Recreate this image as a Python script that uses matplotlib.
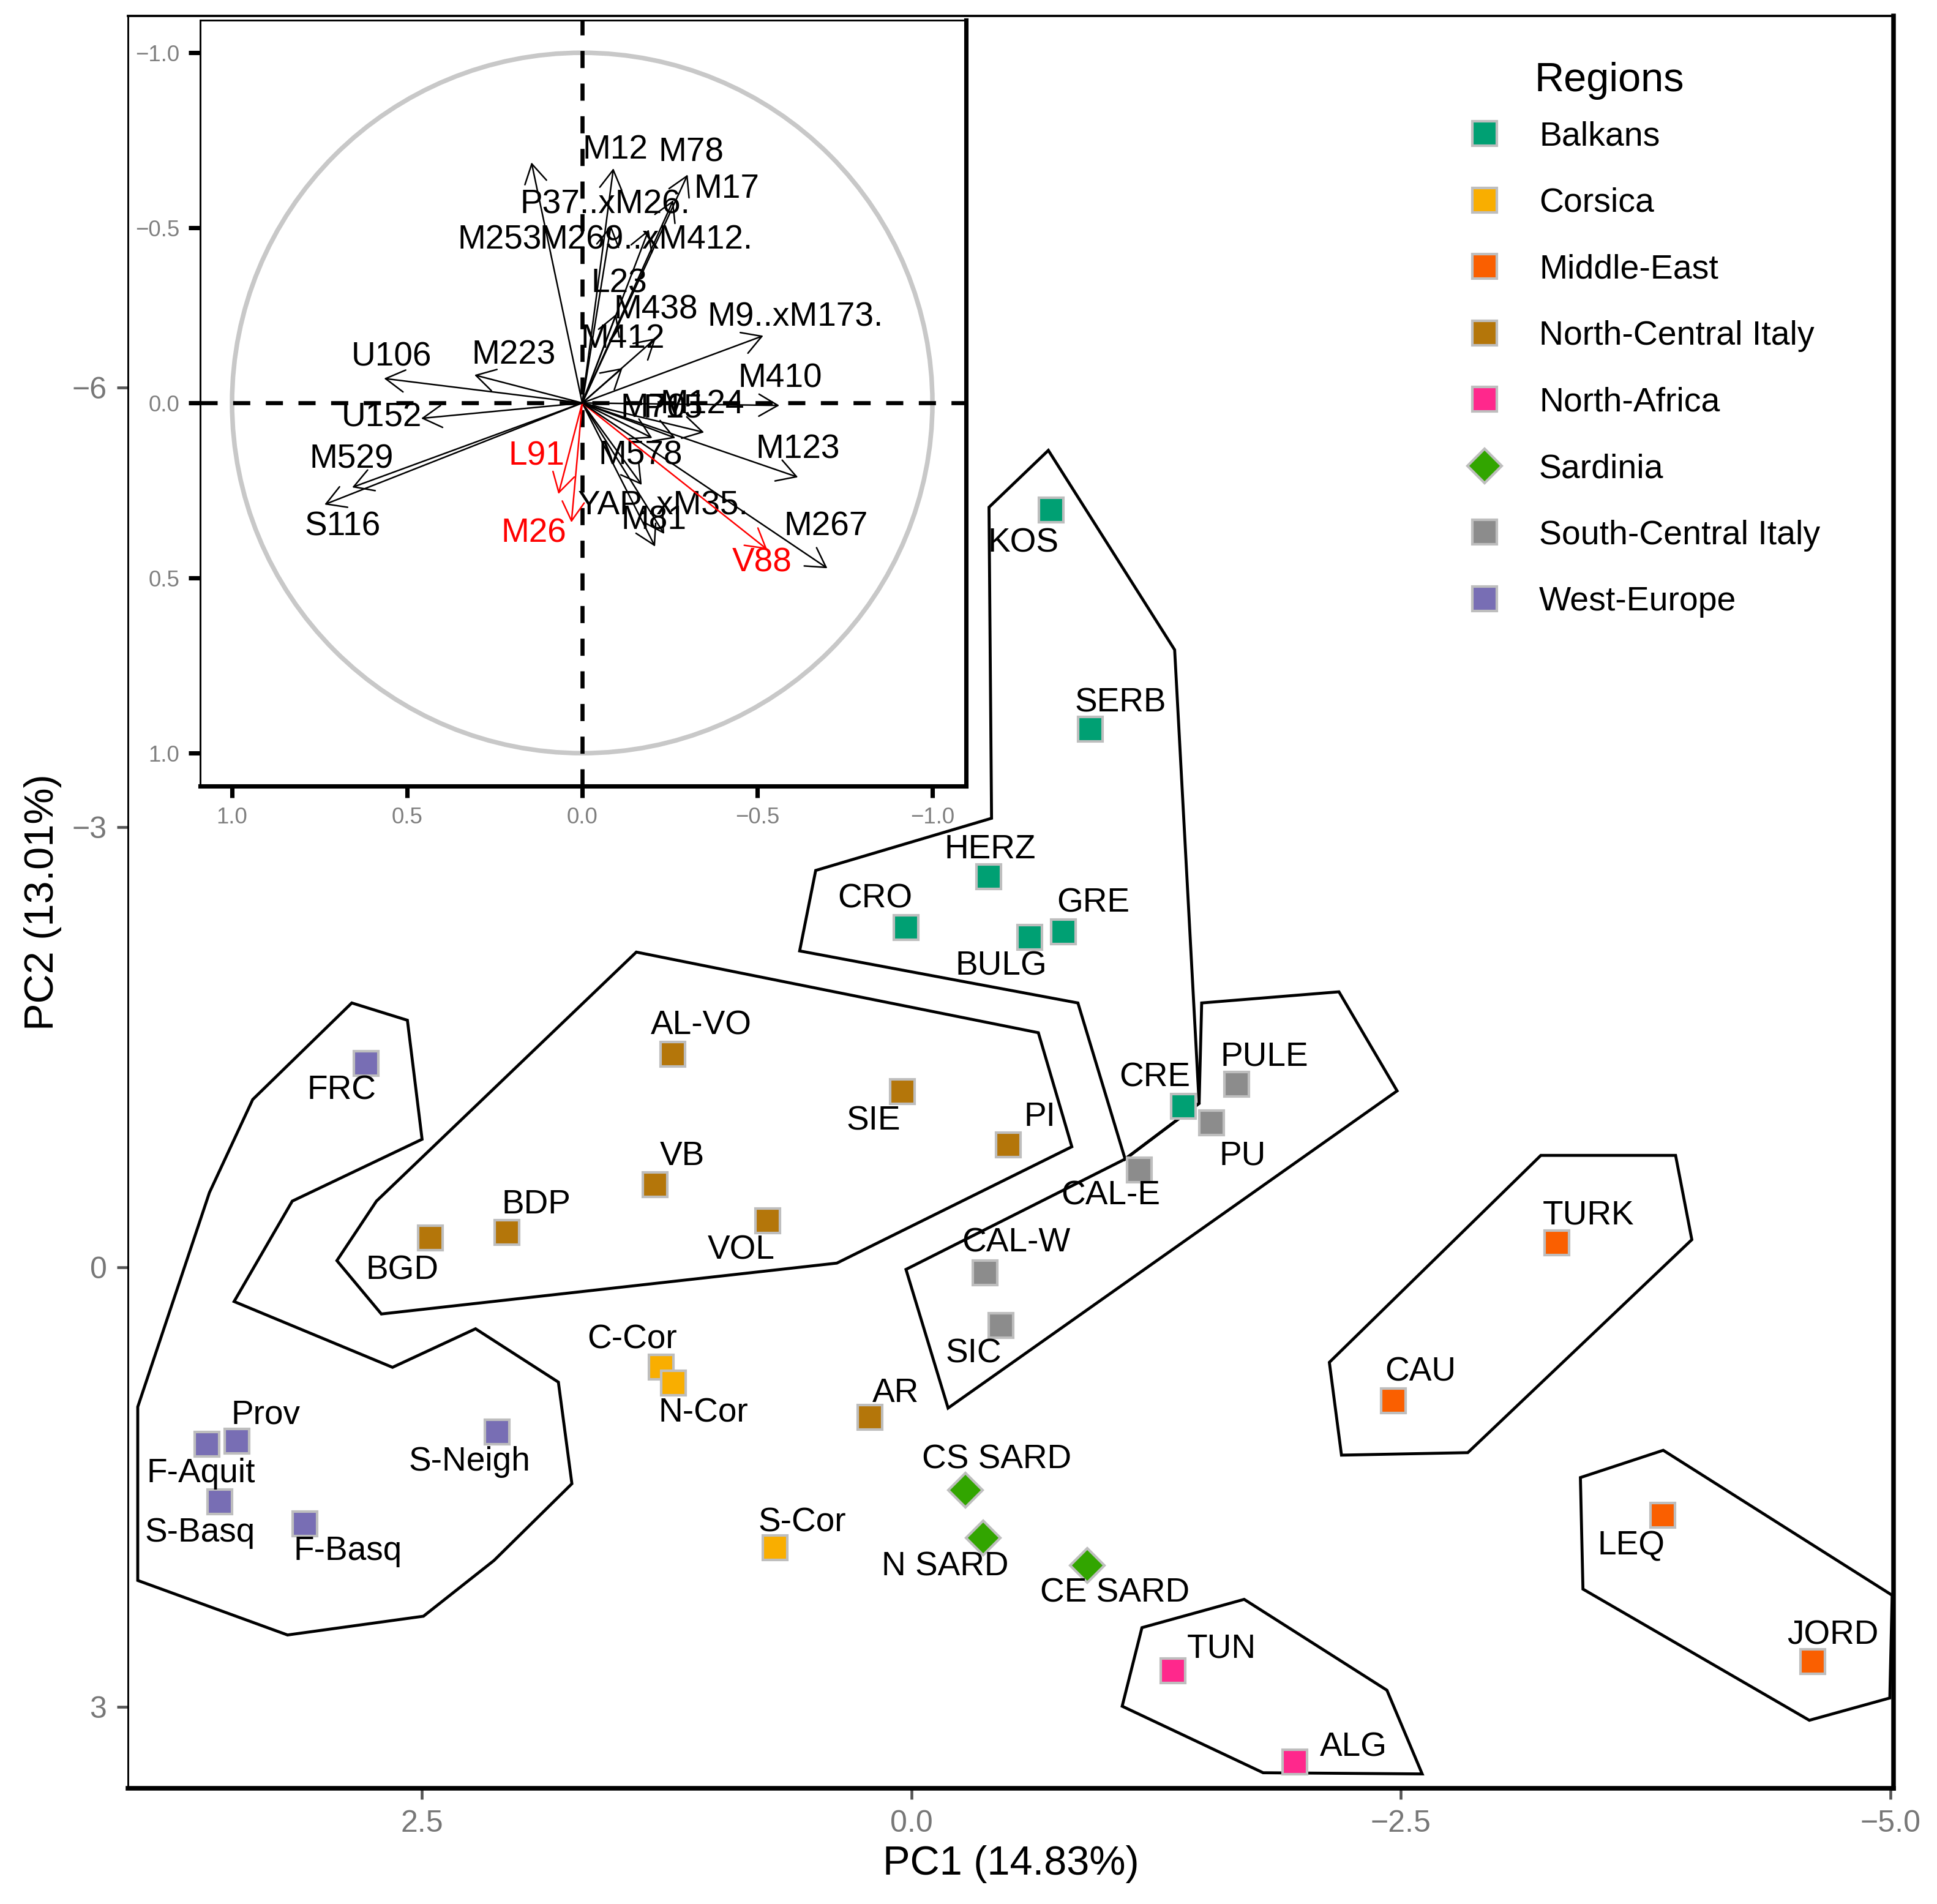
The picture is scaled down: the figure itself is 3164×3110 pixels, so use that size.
import matplotlib
matplotlib.use("Agg")
import matplotlib.pyplot as plt
from matplotlib.lines import Line2D
from matplotlib.patches import Polygon, Circle

plt.rcParams['font.family'] = ['Liberation Sans', 'DejaVu Sans']

# populations on the first two PCs
pops = ['KOS', 'SERB', 'HERZ', 'CRO', 'BULG', 'GRE', 'CRE',
        'C-Cor', 'N-Cor', 'S-Cor',
        'TURK', 'CAU', 'LEQ', 'JORD',
        'AL-VO', 'SIE', 'PI', 'VB', 'BDP', 'BGD', 'VOL', 'AR',
        'TUN', 'ALG',
        'CS SARD', 'N SARD', 'CE SARD',
        'PULE', 'PU', 'CAL-E', 'CAL-W', 'SIC',
        'FRC', 'Prov', 'F-Aquit', 'S-Basq', 'F-Basq', 'S-Neigh']
pc1 = [-0.713, -0.915, -0.397, 0.027, -0.605, -0.776, -1.389,
       1.278, 1.214, 0.696,
       -3.298, -2.461, -3.836, -4.604,
       1.218, 0.046, -0.496, 1.308, 2.066, 2.455, 0.734, 0.211,
       -1.337, -1.96,
       -0.277, -0.368, -0.90,
       -1.663, -1.533, -1.164, -0.377, -0.457,
       2.784, 3.442, 3.596, 3.531, 3.098, 2.116]
pc2 = [-5.166, -3.672, -2.662, -2.318, -2.248, -2.288, -1.096,
       0.682, 0.793, 1.914,
       -0.167, 0.914, 1.692, 2.691,
       -1.450, -1.197, -0.834, -0.561, -0.238, -0.197, -0.318, 1.025,
       2.754, 3.378,
       1.520, 1.846, 2.037,
       -1.248, -0.985, -0.662, 0.041, 0.399,
       -1.389, 1.187, 1.207, 1.601, 1.752, 1.126]
pop_region = (['Balkans'] * 7 + ['Corsica'] * 3 + ['Middle-East'] * 4 +
              ['North-Central Italy'] * 8 + ['North-Africa'] * 2 +
              ['Sardinia'] * 3 + ['South-Central Italy'] * 5 + ['West-Europe'] * 6)

regions = ['Balkans', 'Corsica', 'Middle-East', 'North-Central Italy',
           'North-Africa', 'Sardinia', 'South-Central Italy', 'West-Europe']
region_colors = ['#00A073', '#F9AE00', '#FA5F00', '#B4760A',
                 '#FF288C', '#32A500', '#8C8C8C', '#786EB4']
region_markers = ['s', 's', 's', 's', 's', 'D', 's', 's']

# label offsets (points) from each population
label_offsets = {
    'KOS': (-10.7, -13.1), 'SERB': (11.7, 10.2), 'HERZ': (0.5, 10.7), 'CRO': (-12.2, 11.2),
    'BULG': (-11.2, -11.2), 'GRE': (11.7, 11.2), 'CRE': (-11.2, 11.2),
    'C-Cor': (-11.2, 10.7), 'N-Cor': (11.7, -11.7), 'S-Cor': (10.7, 9.7),
    'TURK': (12.2, 10.7), 'CAU': (10.7, 11.2), 'LEQ': (-12.2, -12.2), 'JORD': (7.8, 10.2),
    'AL-VO': (11.2, 11.2), 'SIE': (-11.2, -11.7), 'PI': (12.2, 10.7), 'VB': (10.7, 11.2),
    'BDP': (11.7, 10.7), 'BGD': (-11.2, -12.7), 'VOL': (-10.2, -11.7), 'AR': (10.2, 9.3),
    'TUN': (19.0, 8.5), 'ALG': (22.9, 5.8),
    'CS SARD': (12.2, 11.7), 'N SARD': (-15.0, -11.6), 'CE SARD': (10.8, -10.9),
    'PULE': (10.7, 10.7), 'PU': (12.2, -13.1), 'CAL-E': (-11.2, -10.2), 'CAL-W': (12.2, 11.7),
    'SIC': (-10.7, -11.2),
    'FRC': (-9.7, -10.7), 'Prov': (11.2, 10.2), 'F-Aquit': (-2.4, -11.7), 'S-Basq': (-7.8, -12.2),
    'F-Basq': (17.0, -10.7), 'S-Neigh': (-10.7, -11.7),
}

# cluster outlines (PC1, PC2)
hull_west = [(2.857, -1.802), (2.573, -1.684), (2.498, -0.872), (3.161, -0.450), (3.458, 0.235),
             (2.649, 0.684), (2.225, 0.421), (1.802, 0.785), (1.733, 1.478), (2.131, 2.002),
             (2.491, 2.382), (3.185, 2.510), (3.950, 2.138), (3.950, 0.954), (3.584, -0.508),
             (3.363, -1.143)]
hull_north_central = [(1.404, -2.149), (-0.649, -1.599), (-0.820, -0.821), (0.380, -0.027),
                      (2.706, 0.320), (2.933, -0.044), (2.731, -0.450)]
hull_balkans = [(-0.700, -5.572), (-1.345, -4.211), (-1.470, -1.117), (-1.092, -0.737),
                (-0.851, -1.802), (0.570, -2.157), (0.488, -2.706), (-0.410, -3.062),
                (-0.397, -5.184)]
hull_south_central = [(-1.483, -1.802), (-2.184, -1.878), (-2.481, -1.202), (-0.188, 0.962),
                      (0.027, 0.016), (-1.092, -0.737), (-1.470, -1.117)]
hull_me_north = [(-3.215, -0.762), (-3.903, -0.762), (-3.986, -0.187), (-2.842, 1.266),
                 (-2.197, 1.283), (-2.135, 0.650)]
hull_me_south = [(-3.840, 1.250), (-5.009, 2.239), (-4.997, 2.940), (-4.586, 3.092),
                 (-3.430, 2.197), (-3.417, 1.436)]
hull_africa = [(-1.178, 2.460), (-1.700, 2.267), (-2.429, 2.887), (-2.609, 3.458),
               (-1.797, 3.450), (-1.077, 2.996)]
hulls = [hull_west, hull_north_central, hull_balkans, hull_south_central,
         hull_me_north, hull_me_south, hull_africa]

# variable loadings for the correlation circle
markers = ['P37..xM26.', 'M12', 'M78', 'M17', 'M253', 'M269..xM412.', 'L23', 'M438',
           'M412', 'M9..xM173.', 'M410', 'M124', 'M70', 'P15', 'M123', 'M578',
           'YAP..xM35.', 'M81', 'V88', 'M267', 'L91', 'M26', 'U106', 'M223',
           'U152', 'M529', 'S116']
load1 = [0.145, -0.089, -0.301, -0.26, -0.082, -0.19, -0.097, -0.115,
         -0.21, -0.517, -0.563, -0.348, -0.266, -0.20, -0.616, -0.17,
         -0.234, -0.208, -0.528, -0.70, 0.068, 0.031, 0.566, 0.308,
         0.46, 0.657, 0.736]
load2 = [-0.687, -0.670, -0.652, -0.579, -0.507, -0.495, -0.254, -0.10,
         -0.185, -0.192, 0.007, 0.084, 0.10, 0.10, 0.212, 0.234,
         0.374, 0.41, 0.418, 0.472, 0.26, 0.341, -0.07, -0.08,
         0.044, 0.241, 0.29]
highlight = ['V88', 'L91', 'M26']

# where each marker name sits in the inset
marker_text_pos = {
    'M12': (-0.094, -0.722), 'M78': (-0.311, -0.715), 'M17': (-0.413, -0.610),
    'P37..xM26.': (-0.065, -0.566), 'M253': (0.236, -0.465), 'M269..xM412.': (-0.182, -0.465),
    'L23': (-0.105, -0.341), 'M438': (-0.210, -0.266), 'M412': (-0.115, -0.182),
    'M9..xM173.': (-0.608, -0.245), 'U106': (0.544, -0.131), 'M223': (0.196, -0.136),
    'M410': (-0.565, -0.070), 'U152': (0.573, 0.042), 'M70': (-0.203, 0.017),
    'P15': (-0.26, 0.017), 'M124': (-0.343, 0.004), 'M123': (-0.615, 0.133),
    'M529': (0.659, 0.161), 'L91': (0.131, 0.152), 'M578': (-0.166, 0.150),
    'YAP..xM35.': (-0.231, 0.295), 'M81': (-0.205, 0.336), 'S116': (0.685, 0.353),
    'M26': (0.138, 0.372), 'M267': (-0.696, 0.353), 'V88': (-0.514, 0.456),
}

W, H = 3164, 3110
fig = plt.figure(figsize=(W / 300, H / 300), dpi=300)
ax = fig.add_axes([209 / W, 1 - 2921 / H, (3093 - 209) / W, (2921 - 26) / H])
ax.set_xlim(4.0, -5.016)
ax.set_ylim(3.556, -8.536)

for h in hulls:
    ax.add_patch(Polygon(h, closed=True, fill=False, edgecolor='black', lw=1.15, zorder=2))

for reg, col, mk in zip(regions, region_colors, region_markers):
    xs = [x for x, r in zip(pc1, pop_region) if r == reg]
    ys = [y for y, r in zip(pc2, pop_region) if r == reg]
    ms = 9.5 if mk == 'D' else 9.6
    ax.plot(xs, ys, ls='', marker=mk, ms=ms, mfc=col, mec='#BEBEBE', mew=1.0, zorder=3)

for name, x, y in zip(pops, pc1, pc2):
    ax.annotate(name, (x, y), xytext=label_offsets[name], textcoords='offset points',
                ha='center', va='center', fontsize=13.2, zorder=4)

ax.set_xticks([2.5, 0.0, -2.5, -5.0])
ax.set_xticklabels(['2.5', '0.0', '\u22122.5', '\u22125.0'])
ax.set_yticks([-6, -3, 0, 3])
ax.set_yticklabels(['\u22126', '\u22123', '0', '3'])
ax.tick_params(direction='out', length=4.3, width=1.1, color='#555555',
               labelcolor='#777777', labelsize=12, pad=4)
ax.set_xlabel('PC1 (14.83%)', fontsize=16, labelpad=3)
ax.set_ylabel('PC2 (13.01%)', fontsize=16, labelpad=4)
ax.spines['left'].set_linewidth(0.7)
ax.spines['top'].set_linewidth(0.9)
ax.spines['right'].set_linewidth(1.8)
ax.spines['bottom'].set_linewidth(1.8)

handles = [Line2D([], [], ls='', marker=mk, ms=(9.5 if mk == 'D' else 9.6), mfc=col,
                  mec='#BEBEBE', mew=1.0)
           for col, mk in zip(region_colors, region_markers)]
ax.legend(handles, regions, loc='upper left', bbox_to_anchor=(0.7587, 0.9408),
          frameon=False, fontsize=13.3, handlelength=1.0, handletextpad=1.11,
          labelspacing=1.02, borderpad=0, borderaxespad=0)
ax.text(0.7968, 0.9575, 'Regions', transform=ax.transAxes, fontsize=16,
        ha='left', va='baseline')

# correlation circle inset
inax = fig.add_axes([327 / W, 1 - 1284 / H, (1578 - 327) / W, (1284 - 33) / H])
inax.set_facecolor('white')
inax.set_xlim(1.091, -1.096)
inax.set_ylim(1.094, -1.093)
inax.add_patch(Circle((0, 0), 1.0, fill=False, edgecolor='#C8C8C8', lw=1.8))
inax.axhline(0, color='black', lw=1.6, ls=(0, (4.2, 3.8)))
inax.axvline(0, color='black', lw=1.6, ls=(0, (4.2, 3.8)))

for m, x, y in zip(markers, load1, load2):
    c = 'red' if m in highlight else 'black'
    inax.annotate('', xy=(x, y), xytext=(0, 0),
                  arrowprops=dict(arrowstyle='->,head_length=0.62,head_width=0.36',
                                  color=c, lw=0.6, shrinkA=0, shrinkB=0,
                                  mutation_scale=12))
    tx, ty = marker_text_pos[m]
    inax.text(tx, ty, m, color=c, fontsize=13.2, ha='center', va='center')

inax.set_xticks([1.0, 0.5, 0.0, -0.5, -1.0])
inax.set_xticklabels(['1.0', '0.5', '0.0', '\u22120.5', '\u22121.0'])
inax.set_yticks([-1.0, -0.5, 0.0, 0.5, 1.0])
inax.set_yticklabels(['\u22121.0', '\u22120.5', '0.0', '0.5', '1.0'])
inax.tick_params(direction='out', length=4.5, width=1.7, color='black',
                 labelcolor='#7F7F7F', labelsize=8.8, pad=3.6)
inax.spines['left'].set_linewidth(0.7)
inax.spines['top'].set_linewidth(0.7)
inax.spines['right'].set_linewidth(1.7)
inax.spines['bottom'].set_linewidth(1.7)

fig.savefig('out.png', dpi=300)
